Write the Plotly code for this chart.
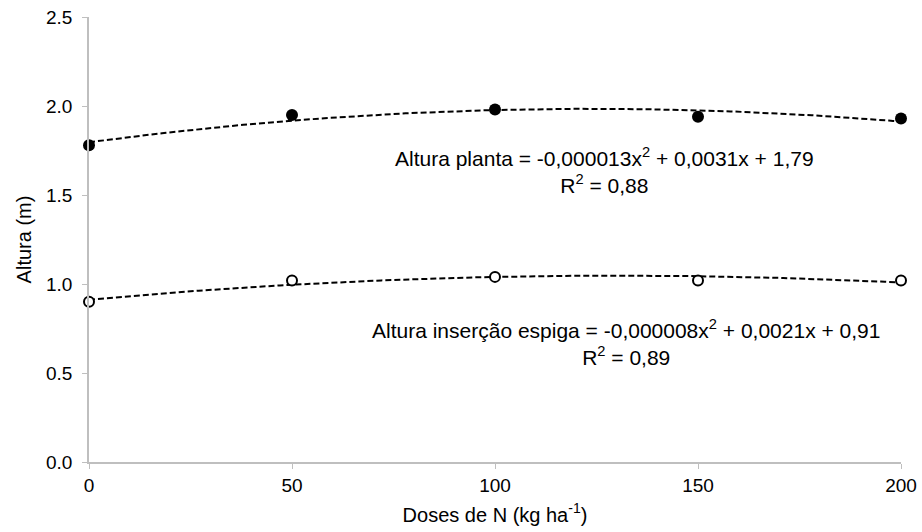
import numpy as np
import plotly.graph_objects as go

doses = [0, 50, 100, 150, 200]
altura_planta = [1.78, 1.95, 1.98, 1.94, 1.93]
altura_espiga = [0.90, 1.02, 1.04, 1.02, 1.02]
x_ticks = [0, 50, 100, 150, 200]
y_ticks = [0.0, 0.5, 1.0, 1.5, 2.0, 2.5]
y_tick_labels = ["0.0", "0.5", "1.0", "1.5", "2.0", "2.5"]

eq_planta = "Altura planta = -0,000013x<sup>2</sup> + 0,0031x + 1,79<br>R<sup>2</sup> = 0,88"
eq_espiga = "Altura inserção espiga = -0,000008x<sup>2</sup> + 0,0021x + 0,91<br>R<sup>2</sup> = 0,89"

FONT = "Liberation Sans, Arial, sans-serif"

xs = np.linspace(0, 200, 201)
cp = np.polyfit(doses, altura_planta, 2)
ce = np.polyfit(doses, altura_espiga, 2)

fig = go.Figure()
fig.add_trace(go.Scatter(x=xs, y=np.polyval(cp, xs), mode="lines",
                         line=dict(color="black", width=2, dash="6px,3px"), showlegend=False))
fig.add_trace(go.Scatter(x=xs, y=np.polyval(ce, xs), mode="lines",
                         line=dict(color="black", width=2, dash="6px,3px"), showlegend=False))
fig.add_trace(go.Scatter(x=doses, y=altura_planta, mode="markers",
                         marker=dict(color="black", size=12, line=dict(color="black", width=0)),
                         showlegend=False, cliponaxis=False))
fig.add_trace(go.Scatter(x=doses, y=altura_espiga, mode="markers",
                         marker=dict(color="white", size=10, line=dict(color="black", width=2)),
                         showlegend=False, cliponaxis=False))

fig.add_annotation(x=127, y=1.636, xref="x", yref="y", text=eq_planta, showarrow=False,
                   font=dict(family=FONT, size=21, color="black"), align="center")
fig.add_annotation(x=132.3, y=0.673, xref="x", yref="y", text=eq_espiga, showarrow=False,
                   font=dict(family=FONT, size=21, color="black"), align="center")

fig.update_layout(
    width=922, height=532,
    margin=dict(l=89, r=21, t=17, b=70, autoexpand=False),
    paper_bgcolor="white", plot_bgcolor="white",
    font=dict(family=FONT, size=20, color="black"),
    xaxis=dict(range=[0, 200], tickvals=x_ticks, showgrid=False, zeroline=False,
               showline=True, linecolor="#bfbfbf", linewidth=1.5,
               ticks="outside", ticklen=5, tickcolor="#bfbfbf", tickfont=dict(size=19),
               title=dict(text="Doses de N (kg ha<sup>-1</sup>)", font=dict(size=20), standoff=13)),
    yaxis=dict(range=[0, 2.5], tickvals=y_ticks, ticktext=y_tick_labels, showgrid=False, zeroline=False,
               showline=True, linecolor="#bfbfbf", linewidth=1.5,
               ticks="outside", ticklen=5, tickcolor="#bfbfbf", tickfont=dict(size=19),
               ticklabelstandoff=6,
               title=dict(text="Altura (m)", font=dict(size=20), standoff=9)),
)

fig.write_html("out.html", config={"displayModeBar": False},
               post_script="document.body.style.margin='0';")
